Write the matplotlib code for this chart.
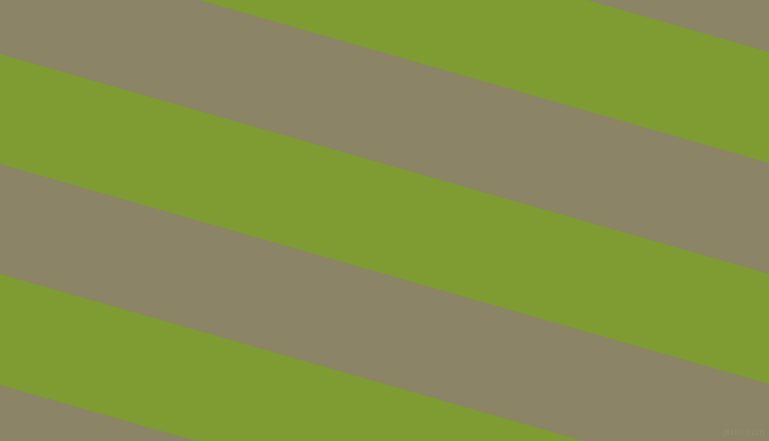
import matplotlib
matplotlib.use("Agg")
import matplotlib.pyplot as plt
import numpy as np

# stripe boundaries: y where each edge meets the left border (pixels from top)
edge_offsets = [-400, -168, -57, 54, 164, 274, 385, 600]
band_colors = ["#8b8466", "#7e9c31", "#8b8466", "#7e9c31",
               "#8b8466", "#7e9c31", "#8b8466"]
slope = 0.286  # drop in y per pixel across

W, H = 769, 441
fig = plt.figure(figsize=(W / 100, H / 100), dpi=100, facecolor=band_colors[0])
ax = fig.add_axes([0, 0, 1, 1])
ax.set_facecolor(band_colors[0])
ax.set_xlim(0, W)
ax.set_ylim(H, 0)
ax.axis("off")

# background is the grey stripe colour; only draw the bands that differ
x = np.array([0, W])
for top, bottom, color in zip(edge_offsets[:-1], edge_offsets[1:], band_colors):
    if color == band_colors[0]:
        continue
    ax.fill_between(x, top + slope * x, bottom + slope * x,
                    color=color, linewidth=0)

ax.text(W - 4, H - 4, "pixlis.com", ha="right", va="bottom",
        fontsize=6, color="#948d70")

fig.savefig("out.png", dpi=100, facecolor=band_colors[0])
